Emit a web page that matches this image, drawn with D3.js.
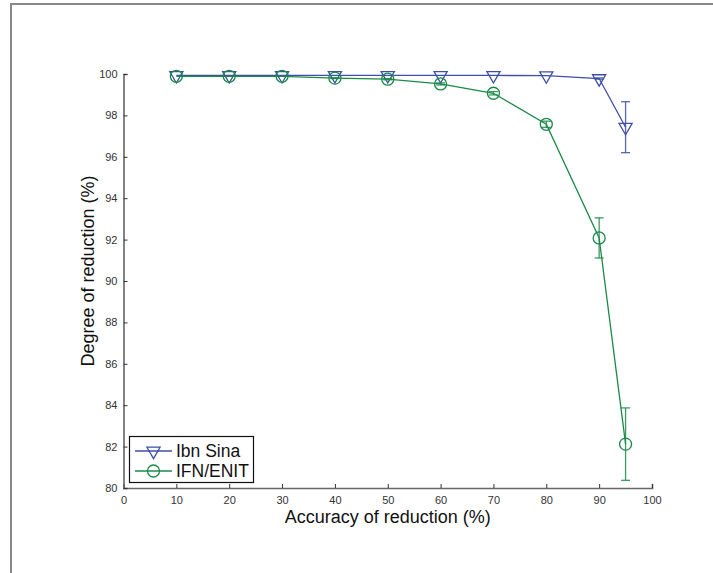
<!DOCTYPE html>
<html><head><meta charset="utf-8">
<script src="https://cdn.jsdelivr.net/npm/d3@7"></script>
<style>body{margin:0;background:#fff;} svg{display:block;font-family:"Liberation Sans",Arial,sans-serif;}</style>
</head><body>
<script>
const xVals = [10,20,30,40,50,60,70,80,90,95];
const ibnSina = [99.93,99.93,99.93,99.93,99.93,99.93,99.93,99.92,99.78,97.43];
const ibnSinaErr = [0,0,0,0,0,0,0,0,0.03,1.23];
const ifnEnit = [99.89,99.89,99.89,99.8,99.75,99.52,99.07,97.57,92.08,82.12];
const ifnEnitErr = [0,0,0,0.02,0.03,0.05,0.08,0.15,0.97,1.75];
const xTicks = [0,10,20,30,40,50,60,70,80,90,100];
const yTicks = [80,82,84,86,88,90,92,94,96,98,100];
const seriesNames = ["Ibn Sina","IFN/ENIT"];
const seriesColors = ["#3d4fa6","#1b8a48"];

const W=713,H=573;
const svg=d3.select("body").append("svg").attr("width",W).attr("height",H);
// outer frame (top + left)
svg.append("line").attr("x1",10).attr("x2",W).attr("y1",4).attr("y2",4).attr("stroke","#888").attr("stroke-width",2);
svg.append("line").attr("x1",11).attr("x2",11).attr("y1",3).attr("y2",H).attr("stroke","#888").attr("stroke-width",2);

const x=d3.scaleLinear().domain([0,100]).range([123.5,652]);
const y=d3.scaleLinear().domain([80,100]).range([488,74]);

const axisColor="#666";
// x axis
const gx=svg.append("g").attr("transform",`translate(0,${y(80)})`)
  .call(d3.axisBottom(x).tickValues(xTicks).tickSize(-4).tickPadding(8).tickFormat(d3.format("d")));
// y axis
const gy=svg.append("g").attr("transform",`translate(${x(0)},0)`)
  .call(d3.axisLeft(y).tickValues(yTicks).tickSize(-4).tickPadding(6).tickFormat(d3.format("d")));
[gx,gy].forEach(g=>{
  g.select(".domain").attr("stroke",axisColor).attr("stroke-width",1.6);
  g.selectAll(".tick line").attr("stroke","#333").attr("stroke-width",1);
  g.selectAll(".tick text").attr("fill","#333").style("font-size","11px").style("font-family","Liberation Sans, Arial, sans-serif");
});
gx.selectAll(".tick text").attr("dy","0.71em");

svg.append("text").attr("x",(x(0)+x(100))/2).attr("y",523).attr("text-anchor","middle")
  .style("font-size","18px").attr("fill","#111").text("Accuracy of reduction (%)");
svg.append("text").attr("transform",`translate(94,${271}) rotate(-90)`).attr("text-anchor","middle")
  .style("font-size","18px").attr("fill","#111").text("Degree of reduction (%)");

const tri=d3.symbol().type(d3.symbolTriangle).size(75);
function drawSeries(vals,errs,color,kind){
  const g=svg.append("g");
  const pts=xVals.map((d,i)=>({x:d,v:vals[i],e:errs[i]}));
  g.append("path").datum(pts).attr("fill","none").attr("stroke",color).attr("stroke-width",1.3)
    .attr("d",d3.line().x(d=>x(d.x)).y(d=>y(d.v)));
  pts.filter(d=>d.e>0).forEach(d=>{
    const cx=x(d.x);
    g.append("line").attr("x1",cx).attr("x2",cx).attr("y1",y(d.v-d.e)).attr("y2",y(d.v+d.e)).attr("stroke",color).attr("stroke-width",1.3).attr("opacity",0.85);
    [d.v-d.e,d.v+d.e].forEach(vv=>g.append("line").attr("x1",cx-4.5).attr("x2",cx+4.5).attr("y1",y(vv)).attr("y2",y(vv)).attr("stroke",color).attr("stroke-width",1.3).attr("opacity",0.85));
  });
  pts.forEach(d=>{
    if(kind==="tri"){
      g.append("path").attr("d",tri).attr("transform",`translate(${x(d.x)},${y(d.v)}) rotate(180)`)
        .attr("fill","none").attr("stroke",color).attr("stroke-width",1.3);
    } else {
      g.append("circle").attr("cx",x(d.x)).attr("cy",y(d.v)).attr("r",6).attr("fill","none").attr("stroke",color).attr("stroke-width",1.3);
    }
  });
}
drawSeries(ibnSina,ibnSinaErr,seriesColors[0],"tri");
drawSeries(ifnEnit,ifnEnitErr,seriesColors[1],"circ");

// legend
const lg=svg.append("g");
lg.append("rect").attr("x",129.5).attr("y",436.5).attr("width",124).attr("height",46).attr("fill","#fff").attr("stroke","#111").attr("stroke-width",1.2);
seriesNames.forEach((n,i)=>{
  const yy=451+i*20, c=seriesColors[i];
  lg.append("line").attr("x1",135).attr("x2",172).attr("y1",yy).attr("y2",yy).attr("stroke",c).attr("stroke-width",1.3);
  if(i===0) lg.append("path").attr("d",tri).attr("transform",`translate(153.5,${yy}) rotate(180)`).attr("fill","none").attr("stroke",c).attr("stroke-width",1.3);
  else lg.append("circle").attr("cx",153.5).attr("cy",yy).attr("r",6).attr("fill","none").attr("stroke",c).attr("stroke-width",1.3);
  lg.append("text").attr("x",176).attr("y",yy).attr("dy","0.35em").style("font-size","17.5px").attr("fill","#111").text(n);
});
</script>
</body></html>
